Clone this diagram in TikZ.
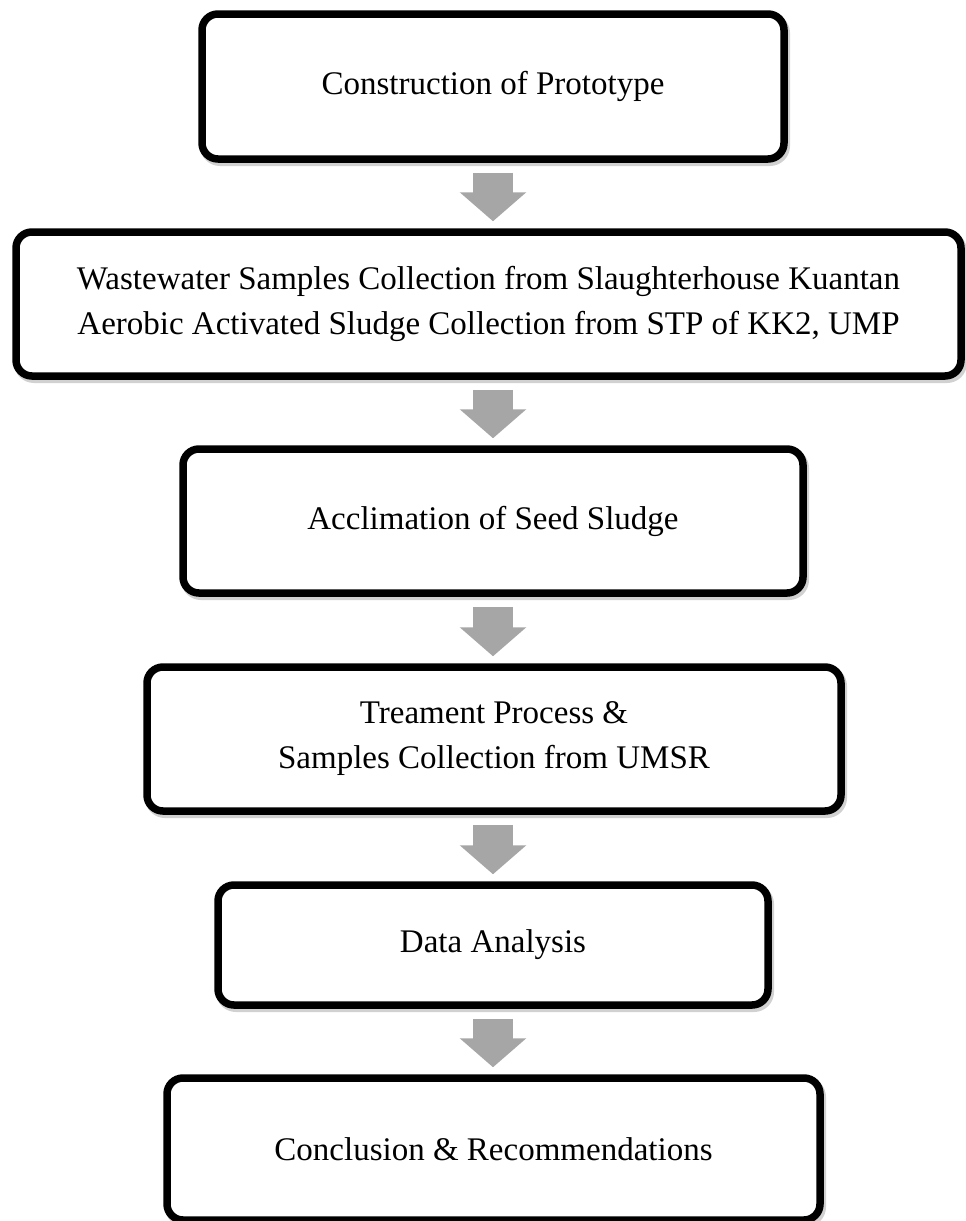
\documentclass[tikz,border=0pt]{standalone}
\usepackage{fontspec}
\setmainfont{Liberation Serif}
\usetikzlibrary{arrows.meta,shadows,calc}
\definecolor{arrowgray}{HTML}{A6A6A6}
\begin{document}
\begin{tikzpicture}[x=1pt,y=-1pt,
  stepbox/.style={draw=black, line width=7.5pt, rounded corners=16pt, fill=white,
    align=center, inner sep=0pt, font=\fontsize{33}{45}\selectfont,
    drop shadow={shadow xshift=2pt, shadow yshift=-3pt, opacity=0.18, fill=black, draw=black, line width=8pt}},
  flow/.style={draw=arrowgray, line width=40pt, line cap=butt,
    -{Triangle[width=65pt,length=29pt]}}]
\useasboundingbox[fill=white] (0,0) rectangle (966,1221);

\node[stepbox, minimum width=582pt, minimum height=145pt] (n1) at (493,86.5)
  {Construction of Prototype};
\node[stepbox, minimum width=945pt, minimum height=144pt] (n2) at (488.5,304)
  {Wastewater Samples Collection from Slaughterhouse Kuantan\\
   Aerobic Activated Sludge Collection from STP of KK2, UMP};
\node[stepbox, minimum width=620pt, minimum height=144pt] (n3) at (493,521)
  {Acclimation of Seed Sludge};
\node[stepbox, minimum width=694pt, minimum height=144pt] (n4) at (494,739)
  {Treament Process \&\\ Samples Collection from UMSR};
\node[stepbox, minimum width=550pt, minimum height=120pt] (n5) at (493,945)
  {Data Analysis};
\node[stepbox, minimum width=653pt, minimum height=142pt] (n6) at (493.5,1149)
  {Conclusion \& Recommendations};

\draw[flow] ($(n1.south)+(0,10)$) -- ($(n1.south |- n2.north)+(0,-7)$);
\draw[flow] ($(n3.north |- n2.south)+(0,10)$) -- ($(n3.north)+(0,-7)$);
\draw[flow] ($(n3.south)+(0,10)$) -- ($(n3.south |- n4.north)+(0,-7)$);
\draw[flow] ($(n5.north |- n4.south)+(0,10)$) -- ($(n5.north)+(0,-7)$);
\draw[flow] ($(n5.south)+(0,10)$) -- ($(n5.south |- n6.north)+(0,-7)$);
\end{tikzpicture}
\end{document}
